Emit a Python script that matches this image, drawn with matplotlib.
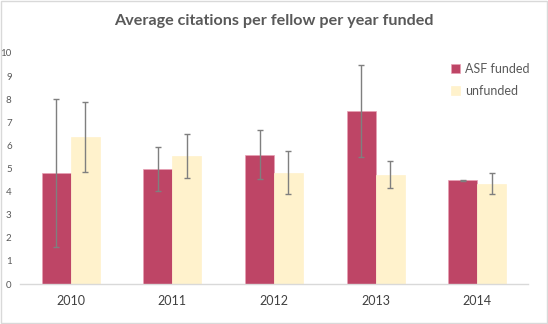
import matplotlib
matplotlib.use("Agg")
import matplotlib.pyplot as plt
import numpy as np

years = ["2010", "2011", "2012", "2013", "2014"]
asf_funded = [4.80, 4.99, 5.60, 7.50, 4.50]
asf_err = [3.20, 0.95, 1.05, 2.00, 0.02]
unfunded = [6.36, 5.55, 4.82, 4.74, 4.34]
unfunded_err = [1.51, 0.95, 0.94, 0.60, 0.45]
yticks = list(range(0, 11))

plt.rcParams['font.family'] = ['Lato', 'DejaVu Sans']

fig = plt.figure(figsize=(5.48, 3.24), dpi=100)
ax = fig.add_axes([20/548, 40/324, 508/548, 231/324])

x = np.arange(len(years))
w = 0.285
err_kw = dict(ecolor='#7f7f7f', elinewidth=1.0, capsize=2.5, capthick=1.0)
ax.bar(x - w/2, asf_funded, w, yerr=asf_err, color='#BE4566', edgecolor='#E8A0B4',
       linewidth=0.5, label='ASF funded', error_kw=err_kw, zorder=2)
ax.bar(x + w/2, unfunded, w, yerr=unfunded_err, color='#FFF2CC', edgecolor='#FFF2CC',
       linewidth=0.5, label='unfunded', error_kw=err_kw, zorder=2)

ax.set_xlim(-0.5, len(years) - 0.5)
ax.set_ylim(0, 10)
ax.set_yticks(yticks)
ax.set_yticklabels([str(t) for t in yticks], fontsize=7, color='#595959')
ax.set_xticks(x)
ax.set_xticklabels(years, fontsize=9, color='#404040')
ax.tick_params(axis='both', length=0)
ax.tick_params(axis='y', pad=6)
ax.tick_params(axis='x', pad=8)
for s in ['top', 'right', 'left']:
    ax.spines[s].set_visible(False)
ax.spines['bottom'].set_color('#d9d9d9')
ax.spines['bottom'].set_linewidth(1.0)

fig.text(0.5, 1 - 21/324, 'Average citations per fellow per year funded',
         ha='center', va='center', fontsize=11.6, fontweight='bold', color='#595959')

leg = fig.legend(loc='upper left', bbox_to_anchor=(446/548, 1 - 58/324), frameon=False,
                 fontsize=9, handlelength=0.7, handleheight=0.7, handletextpad=0.4,
                 labelspacing=0.8, borderaxespad=0)
for t in leg.get_texts():
    t.set_color('#595959')

fig.patches.append(plt.Rectangle((0.001, 0.002), 0.997, 0.995, transform=fig.transFigure,
                                 fill=False, edgecolor='#d9d9d9', linewidth=1.0))

fig.savefig('out.png', dpi=100)
